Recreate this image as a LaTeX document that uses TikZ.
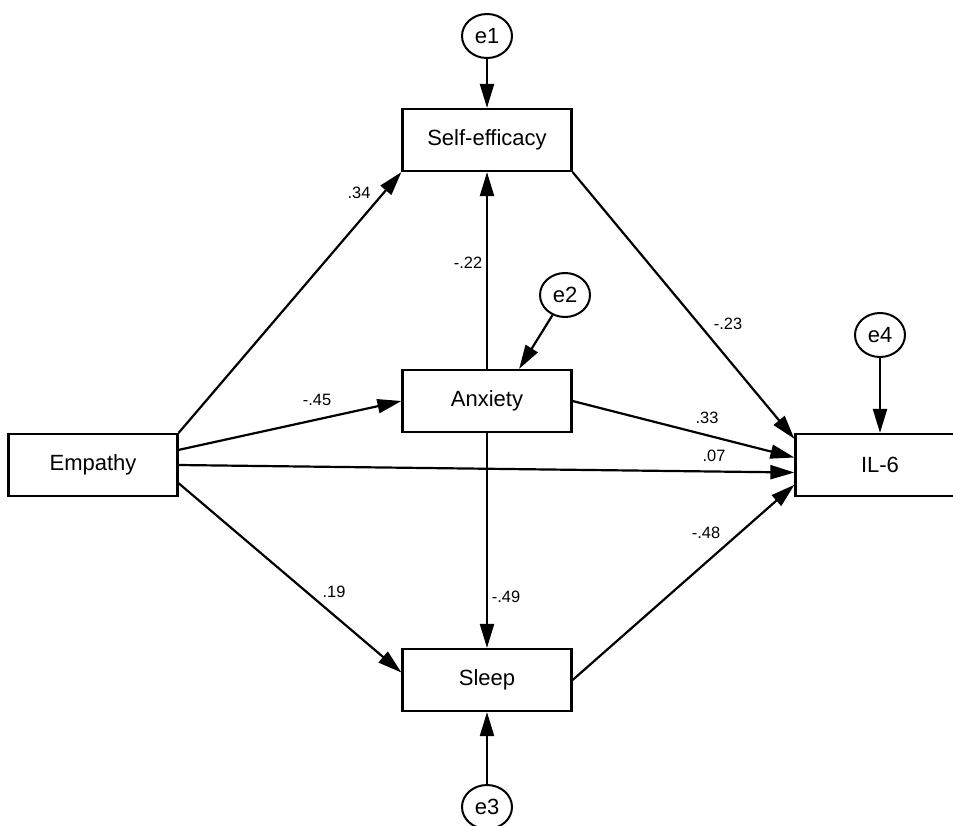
\documentclass[tikz,border=0pt]{standalone}
\usepackage{fontspec}
\setmainfont{Liberation Sans}
\usetikzlibrary{arrows.meta,shapes.geometric}

\begin{document}
\begin{tikzpicture}[x=0.5pt,y=-0.5pt,
    var/.style={rectangle,draw,line width=1.1pt,minimum width=84.5pt,minimum height=31pt,inner sep=0pt,font=\fontsize{11}{12}\selectfont},
    err/.style={ellipse,draw,line width=1pt,minimum width=25pt,minimum height=22pt,inner sep=0pt,font=\fontsize{11}{12}\selectfont},
    regr/.style={-{Triangle[length=12pt,width=7pt]},line width=1.1pt},
    coef/.style={inner sep=0pt,font=\fontsize{8.2}{9}\selectfont}]
        \useasboundingbox (0,0) rectangle (953,825);
        \clip (0,0) rectangle (953,825);
        \node [var] (emp) at (93,465) {Empathy};
        \node [var] (self) at (487,140) {Self-efficacy};
        \node [var] (anx) at (487,401) {Anxiety};
        \node [var] (sleep) at (487,680) {Sleep};
        \node [var] (il6) at (880,465) {IL-6};
        \node [err] (e1) at (487,36) {e1};
        \node [err] (e2) at (565,295) {e2};
        \node [err] (e3) at (487,807) {e3};
        \node [err] (e4) at (880,335) {e4};

        \draw [regr] (e1) -- (self);
        \draw [regr] (e2) -- (anx.45);
        \draw [regr] (e3) -- (sleep);
        \draw [regr] (e4) -- (il6);
        \draw [regr] (emp.north east) -- (self.south west);
        \draw [regr] (emp.10) -- (anx.west);
        \draw [regr] (emp.east) -- (il6.185);
        \draw [regr] (emp.-12) -- (sleep.175);
        \draw [regr] (anx) -- (self);
        \draw [regr] (anx) -- (sleep);
        \draw [regr] (anx.east) -- (il6.175);
        \draw [regr] (self.south east) -- (il6.163);
        \draw [regr] (sleep.east) -- (il6.193);

        \node [coef] (c1) at (359,193) {.34};
        \node [coef] (c2) at (468,263) {-.22};
        \node [coef] (c3) at (317,400) {-.45};
        \node [coef] (c4) at (728,324) {-.23};
        \node [coef] (c5) at (707,418) {.33};
        \node [coef] (c6) at (714,456) {.07};
        \node [coef] (c7) at (706,533) {-.48};
        \node [coef] (c8) at (334,592) {.19};
        \node [coef] (c9) at (506,597) {-.49};
    \end{tikzpicture}
\end{document}
